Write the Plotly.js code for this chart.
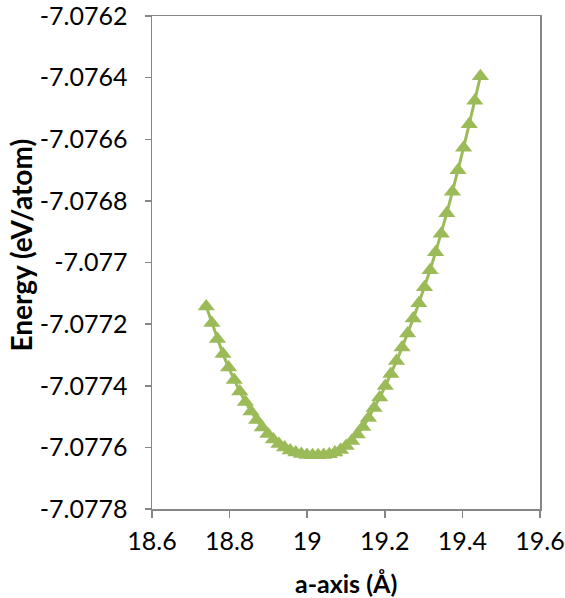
<!DOCTYPE html>
<html>
<head>
<meta charset="utf-8">
<script src="https://cdn.plot.ly/plotly-3.0.1.min.js"></script>
<style>html,body{margin:0;padding:0;background:#fff;}#chart{width:565px;height:598px;}</style>
</head>
<body>
<div id="chart"></div>
<script>
// a-axis lattice parameter (Å)
const aAxis = [18.7398, 18.7542, 18.7686, 18.7830, 18.7975, 18.8119, 18.8263, 18.8407, 18.8551, 18.8696,
  18.8840, 18.8984, 18.9128, 18.9272, 18.9417, 18.9561, 18.9705, 18.9849, 18.9993, 19.0138,
  19.0282, 19.0426, 19.0570, 19.0714, 19.0859, 19.1003, 19.1147, 19.1291, 19.1435, 19.1580,
  19.1724, 19.1868, 19.2012, 19.2156, 19.2301, 19.2445, 19.2589, 19.2733, 19.2877, 19.3022,
  19.3166, 19.3310, 19.3454, 19.3598, 19.3743, 19.3887, 19.4031, 19.4175, 19.4319, 19.4464];
// Energy (eV/atom)
const energy = [-7.0771432, -7.0771967, -7.0772486, -7.0772973, -7.0773411, -7.0773816, -7.0774189, -7.0774530, -7.0774838, -7.0775114,
  -7.0775357, -7.0775568, -7.0775746, -7.0775892, -7.0776006, -7.0776103, -7.0776168, -7.0776216, -7.0776249, -7.0776259,
  -7.0776259, -7.0776249, -7.0776223, -7.0776168, -7.0776087, -7.0775957, -7.0775795, -7.0775584, -7.0775341, -7.0775049,
  -7.0774724, -7.0774384, -7.0774011, -7.0773621, -7.0773200, -7.0772762, -7.0772308, -7.0771821, -7.0771319, -7.0770800,
  -7.0770248, -7.0769664, -7.0769064, -7.0768400, -7.0767702, -7.0767005, -7.0766275, -7.0765513, -7.0764750, -7.0763956];

const xTickVals = [18.6, 18.8, 19.0, 19.2, 19.4, 19.6];
const xTickText = ['18.6', '18.8', '19', '19.2', '19.4', '19.6'];
const yTickVals = [-7.0778, -7.0776, -7.0774, -7.0772, -7.0770, -7.0768, -7.0766, -7.0764, -7.0762];
const yTickText = ['-7.0778', '-7.0776', '-7.0774', '-7.0772', '-7.077', '-7.0768', '-7.0766', '-7.0764', '-7.0762'];

const green = '#9BBB59';
const axisGrey = '#868686';
const fontFam = 'Lato, "Open Sans", sans-serif';

const trace = {
  x: aAxis, y: energy, type: 'scatter', mode: 'lines+markers',
  line: {color: green, width: 3},
  marker: {symbol: 'triangle-up', size: 15, color: green},
  hoverinfo: 'x+y'
};

const layout = {
  width: 565, height: 598,
  margin: {l: 152, r: 25, t: 16, b: 89, pad: 0},
  paper_bgcolor: '#ffffff', plot_bgcolor: '#ffffff',
  showlegend: false,
  font: {family: fontFam, size: 25, color: '#000'},
  xaxis: {
    range: [18.6, 19.6], tickmode: 'array', tickvals: xTickVals, ticktext: xTickText,
    showgrid: false, zeroline: false, showline: true, linecolor: axisGrey, linewidth: 1.5, mirror: true,
    ticks: 'outside', ticklen: 7, tickcolor: axisGrey, tickwidth: 1.5,
    tickfont: {family: fontFam, size: 25, color: '#000'}, ticklabelstandoff: 2,
    ticklabeloverflow: 'allow'
  },
  yaxis: {
    range: [-7.0778, -7.0762], tickmode: 'array', tickvals: yTickVals, ticktext: yTickText,
    showgrid: false, zeroline: false, showline: true, linecolor: axisGrey, linewidth: 1.5, mirror: true,
    ticks: 'outside', ticklen: 6, tickcolor: axisGrey, tickwidth: 1.5,
    tickfont: {family: fontFam, size: 25, color: '#000'}, ticklabelstandoff: 12,
    ticklabeloverflow: 'allow'
  },
  annotations: [
    {text: '<b>a-axis (Å)</b>', xref: 'paper', yref: 'paper', x: 0.5, y: -0.150,
     xanchor: 'center', yanchor: 'middle', showarrow: false, font: {family: fontFam, size: 25, color: '#000'}},
    {text: '<b>Energy (eV/atom)</b>', xref: 'paper', yref: 'paper', x: -0.337, y: 0.535,
     xanchor: 'center', yanchor: 'middle', textangle: -90, showarrow: false, font: {family: fontFam, size: 28, color: '#000'}}
  ]
};

Plotly.newPlot('chart', [trace], layout, {displayModeBar: false, staticPlot: true});
</script>
</body>
</html>
